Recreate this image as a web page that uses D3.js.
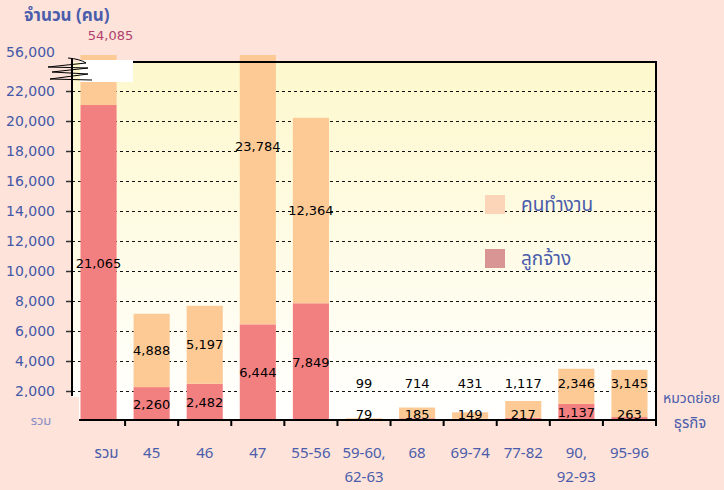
<!DOCTYPE html>
<html>
<head>
<meta charset="utf-8">
<script src="https://cdn.jsdelivr.net/npm/d3@7"></script>
<style>
    body { margin: 0; background: #fde3d9; }
    svg  { display: block; font-family: Tahoma, 'Noto Sans Thai', 'DejaVu Sans', sans-serif; }
</style>
</head>
<body>
<div id="chart"></div>
<script>
'use strict';

// categories (หมวดย่อยธุรกิจ), '\n' splits the label in two lines
const categories = ['รวม', '45', '46', '47', '55-56', '59-60,\n62-63', '68', '69-74', '77-82', '90,\n92-93', '95-96'];
// ลูกจ้าง
const employees  = [21065, 2260, 2482, 6444, 7849, 79, 185, 149, 217, 1137, 263];
// คนทำงาน
const workers    = [54085, 4888, 5197, 23784, 12364, 99, 714, 431, 1117, 2346, 3145];
const yTicks     = [2000, 4000, 6000, 8000, 10000, 12000, 14000, 16000, 18000, 20000, 22000];
const breakTick  = '56,000';
const seriesNames = ['คนทำงาน', 'ลูกจ้าง'];

class BreakBarChart
{
    constructor (id)
    {
        this.id = id;
        this.width  = 724;
        this.height = 490;
        this.plot = { left: 72, right: 656, top: 62, bottom: 420 };
    }

    build ()
    {
        let svg = d3.select('#' + this.id).append('svg')
                    .attr('width', this.width)
                    .attr('height', this.height);

        let p = this.plot;

        this.xScale = d3.scaleBand().domain(d3.range(categories.length))
                        .range([p.left, p.right]).paddingInner(0.32).paddingOuter(0.16);
        // the scale runs a bit past 22,000 so bars over the break get cut at the top
        this.yScale = d3.scaleLinear().domain([0, 24400]).range([p.bottom + 1, 55]).clamp(true);
        this.yFree  = this.yScale.copy().clamp(false);

        let grad = svg.append('defs').append('linearGradient')
                      .attr('id', 'bg').attr('x1', 0).attr('x2', 0).attr('y1', 0).attr('y2', 1);
        grad.append('stop').attr('offset', '0%').attr('stop-color', '#fdf8cc');
        grad.append('stop').attr('offset', '100%').attr('stop-color', '#ffffff');

        svg.append('rect')
            .attr('x', p.left).attr('y', p.top)
            .attr('width', p.right - p.left).attr('height', p.bottom - p.top)
            .style('fill', 'url(#bg)');

        this.drawGrid(svg);
        this.drawBars(svg);
        this.drawFrame(svg);
        this.drawLabels(svg);
        this.drawLegend(svg);
        return this;
    }

    drawGrid (svg)
    {
        let p = this.plot;
        let g = svg.append('g');
        let gy = d => Math.round(this.yScale(d)) + 0.5;

        g.selectAll('line.grid')
            .data(yTicks)
            .enter()
            .append('line')
            .attr('x1', p.left).attr('x2', p.right)
            .attr('y1', gy).attr('y2', gy)
            .style('stroke', '#111').style('stroke-width', 1).style('stroke-dasharray', '3,3');

        g.selectAll('line.tick')
            .data(yTicks)
            .enter()
            .append('line')
            .attr('x1', p.left - 6).attr('x2', p.left)
            .attr('y1', gy).attr('y2', gy)
            .style('stroke', '#333').style('stroke-width', 1.5);

        g.selectAll('text')
            .data(yTicks)
            .enter()
            .append('text')
            .attr('x', 55)
            .attr('y', d => this.yScale(d))
            .attr('dy', '0.35em')
            .attr('text-anchor', 'end')
            .style('font-family', "'DejaVu Sans', sans-serif")
            .style('font-size', '14px')
            .style('fill', '#4458a8')
            .text(d => d3.format(',')(d));

        g.append('text')
            .attr('x', 55).attr('y', 52).attr('dy', '0.35em')
            .attr('text-anchor', 'end')
            .style('font-family', "'DejaVu Sans', sans-serif")
            .style('font-size', '14px')
            .style('fill', '#4458a8')
            .text(breakTick);
    }

    drawBars (svg)
    {
        let rows = categories.map((c, i) => ({ i: i, emp: employees[i], wrk: workers[i] }));
        this.stacked = d3.stack().keys(['emp', 'wrk'])(rows);
        let colors = { emp: '#f38080', wrk: '#fdca96' };

        svg.append('g')
            .selectAll('g')
            .data(this.stacked)
            .enter()
            .append('g')
            .style('fill', s => colors[s.key])
            .selectAll('rect')
            .data(s => s)
            .enter()
            .append('rect')
            .attr('x', d => this.xScale(d.data.i))
            .attr('width', this.xScale.bandwidth())
            .attr('y', d => this.yScale(d[1]))
            .attr('height', d => this.yScale(d[0]) - this.yScale(d[1]));
    }

    drawFrame (svg)
    {
        let p = this.plot;
        let g = svg.append('g').style('stroke', '#000').style('fill', 'none');

        // patch over the bottom-left corner, as in the source
        svg.append('rect').attr('x', 0).attr('y', 397).attr('width', 79).attr('height', 30)
            .style('fill', '#fde3d9');

        g.append('line').attr('x1', p.left).attr('x2', p.left).attr('y1', 58).attr('y2', 396).style('stroke-width', 2);
        g.append('line').attr('x1', 133).attr('x2', p.right + 1).attr('y1', p.top).attr('y2', p.top).style('stroke-width', 2);
        g.append('line').attr('x1', p.right).attr('x2', p.right).attr('y1', p.top).attr('y2', p.bottom + 6).style('stroke-width', 2);
        g.append('line').attr('x1', 79).attr('x2', p.right).attr('y1', p.bottom).attr('y2', p.bottom).style('stroke-width', 2);

        let step = this.xScale.step();
        g.selectAll('line.xt')
            .data(d3.range(1, categories.length))
            .enter()
            .append('line')
            .attr('x1', k => p.left + k * step).attr('x2', k => p.left + k * step)
            .attr('y1', p.bottom).attr('y2', p.bottom + 6)
            .style('stroke-width', 2);

        // axis break
        svg.append('rect').attr('x', 80).attr('y', 60).attr('width', 53).attr('height', 22).style('fill', '#fff');
        svg.append('path')
            .attr('d', 'M68,58 Q80,59 86,63 L48,67 L88,68 L52,72 L88,74 L50,79 L92,80')
            .style('fill', 'none').style('stroke', '#000').style('stroke-width', 1);
    }

    drawLabels (svg)
    {
        let fmt = d3.format(',');
        let yFree = this.yFree;
        let cx = i => this.xScale(i) + this.xScale.bandwidth() / 2;
        let g = svg.append('g')
                   .style('font-family', "'DejaVu Sans', sans-serif")
                   .style('font-size', '13px');

        // ลูกจ้าง values, middle of the red part
        g.selectAll('text.emp')
            .data(this.stacked[0])
            .enter()
            .append('text')
            .attr('x', d => cx(d.data.i))
            .attr('y', d => Math.min(yFree((d[0] + d[1]) / 2), 414))
            .attr('dy', '0.35em').attr('text-anchor', 'middle')
            .text(d => fmt(d.data.emp));

        // คนทำงาน values, middle of the orange part or above the break
        let top = this.yScale.domain()[1];
        g.selectAll('text.wrk')
            .data(this.stacked[1])
            .enter()
            .append('text')
            .each(function (d)
            {
                let mid = (d[0] + d[1]) / 2;
                let t = d3.select(this).attr('dy', '0.35em').attr('text-anchor', 'middle')
                          .text(fmt(d.data.wrk));
                if (mid > top)
                {
                    t.attr('x', cx(d.data.i) + 12).attr('y', 35)
                     .style('fill', '#b0406e').style('font-size', '13px');
                }
                else
                {
                    t.attr('x', cx(d.data.i)).attr('y', Math.min(yFree(mid), 383));
                }
            });

        // category names
        let cat = svg.append('g')
                     .style('font-size', '15px')
                     .style('fill', '#4a5cab');

        cat.selectAll('text')
            .data(categories)
            .enter()
            .append('text')
            .attr('x', (d, i) => cx(i) + (i === 0 ? 8 : 0))
            .attr('y', 453)
            .attr('text-anchor', 'middle')
            .each(function (d)
            {
                let x = d3.select(this).attr('x');
                d.split('\n').forEach((s, k) =>
                    d3.select(this).append('tspan')
                        .attr('x', x)
                        .attr('dy', k === 0 ? '0.35em' : '24px')
                        .text(s));
            });

        svg.append('text').attr('x', 24).attr('y', 15).attr('dy', '0.35em')
            .style('font-size', '17px').style('font-weight', 'bold').style('fill', '#4a5cab')
            .text('จำนวน (คน)');

        svg.append('text').attr('x', 663).attr('y', 398).attr('dy', '0.35em')
            .style('font-size', '14px').style('fill', '#4a5cab')
            .text('หมวดย่อย');
        svg.append('text').attr('x', 690).attr('y', 423).attr('dy', '0.35em')
            .attr('text-anchor', 'middle')
            .style('font-size', '15px').style('fill', '#4a5cab')
            .text('ธุรกิจ');

        svg.append('text').attr('x', 41).attr('y', 420).attr('dy', '0.35em')
            .attr('text-anchor', 'middle')
            .style('font-size', '13px').style('fill', '#8a8ec4')
            .text('รวม');
    }

    drawLegend (svg)
    {
        let colors = ['#fcd5b8', '#d99594'];
        let g = svg.append('g');

        let item = g.selectAll('g')
                    .data(seriesNames)
                    .enter()
                    .append('g')
                    .attr('transform', (d, i) => 'translate(485,' + (195 + i * 54) + ')');

        item.append('rect')
            .attr('width', 20).attr('height', 19)
            .style('fill', (d, i) => colors[i]);

        item.append('text')
            .attr('x', 36).attr('y', 9).attr('dy', '0.35em')
            .style('font-size', '19px').style('fill', '#4a5cab')
            .text(d => d);
    }
}

new BreakBarChart('chart').build();
</script>
</body>
</html>
